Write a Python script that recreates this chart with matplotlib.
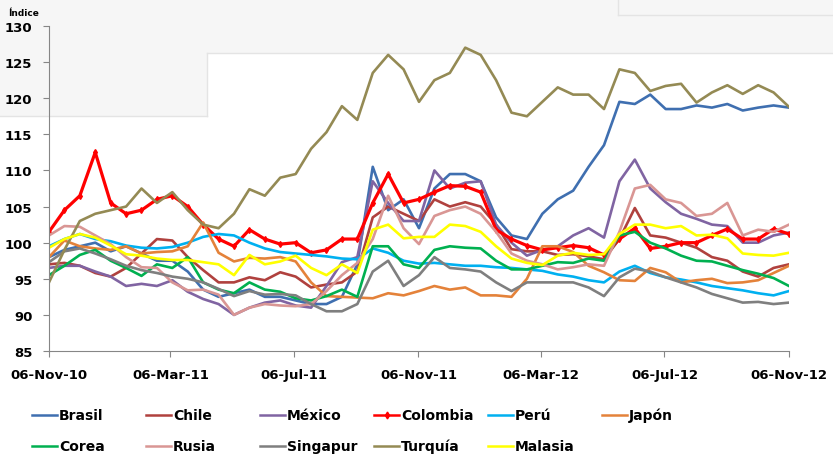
import matplotlib.pyplot as plt
import matplotlib.dates as mdates
import pandas as pd
from matplotlib.lines import Line2D
from matplotlib.patches import Rectangle

# quincenal, 06-Nov-10 .. 06-Nov-12
fechas = pd.date_range('2010-11-06', '2012-11-06', periods=49)

brasil = [98, 99, 99.5, 100, 98.8, 99.5, 98.5, 97.5, 97.5, 96,
          93.5, 92.5, 93, 93.5, 92.5, 92.5, 92, 91.5, 91.5, 92.5,
          97, 110.5, 104.5, 106, 102, 107.5, 109.5, 109.5, 108.5, 103.5,
          101, 100.5, 104, 106, 107.2, 110.5, 113.5, 119.5, 119.2, 120.5,
          118.5, 118.5, 119, 118.7, 119.2, 118.3, 118.7, 119, 118.7]
chile = [97, 97.2, 96.8, 95.8, 95.3, 96.5, 98.5, 100.5, 100.3, 98,
         96.2, 94.5, 94.5, 95.2, 94.8, 95.9, 95.3, 93.8, 94.2, 94.5,
         96, 103.5, 105, 104, 103, 106, 105, 105.6, 105, 102.5,
         99.1, 98.8, 98.8, 98.3, 98.4, 98.1, 97.7, 100.5, 104.8, 101,
         100.7, 100, 99.3, 98, 97.5, 96, 95.3, 96.5, 97]
mexico = [96.5, 96.8, 96.8, 96, 95.3, 94, 94.3, 94, 94.8, 93.2,
          92.2, 91.5, 90, 91, 91.7, 92, 91.3, 91, 94, 97.3,
          98, 108.5, 105.5, 103, 103, 110, 107.5, 108.3, 108.5, 102.5,
          100, 98.2, 99, 99.5, 101, 102, 100.7, 108.5, 111.5, 107.5,
          105.6, 104, 103.3, 102.5, 102.3, 100, 100, 101, 101.4]
colombia = [101.5, 104.5, 106.5, 112.5, 105.5, 104, 104.5, 106, 106.5, 105,
            102.5, 100.5, 99.5, 101.8, 100.5, 99.8, 100, 98.6, 99, 100.5,
            100.5, 105.5, 109.5, 105.5, 106, 107, 107.9, 107.8, 107, 101.8,
            100.5, 99.6, 99, 99.3, 99.6, 99.3, 98.3, 100.5, 102, 99.2,
            99.5, 100, 100, 101, 101.9, 100.5, 100.5, 101.9, 101.2]
peru = [99.5, 100.5, 101.2, 100.5, 100.2, 99.6, 99.3, 99.2, 99.4, 100,
        100.8, 101.2, 101, 100, 99.2, 98.7, 98.5, 98.3, 98.1, 97.8,
        97.7, 99.2, 98.6, 97.5, 97.1, 97.2, 97, 96.8, 96.8, 96.6,
        96.5, 96.3, 96.1, 95.6, 95.3, 94.8, 94.5, 96, 96.8, 95.8,
        95.2, 94.9, 94.5, 94, 93.7, 93.4, 93, 92.7, 93.3]
japon = [98, 100.3, 99.5, 99.2, 99, 99.5, 98.5, 98.7, 98.8, 99.5,
         102.8, 98.6, 97.4, 97.9, 97.8, 98, 97.4, 94.5, 92.6, 92.5,
         92.4, 92.3, 93, 92.7, 93.3, 94, 93.5, 93.8, 92.7, 92.7,
         92.5, 95, 99.5, 99.5, 98.7, 96.8, 95.9, 94.8, 94.7, 96.5,
         95.9, 94.5, 94.8, 95, 94.4, 94.5, 94.8, 95.8, 96.8]
corea = [95.5, 96.8, 98.3, 99, 97.5, 96.5, 95.4, 97, 96.5, 98,
         94.5, 93.5, 93, 94.5, 93.5, 93.2, 92.3, 92, 92.6, 93.5,
         92.5, 99.5, 99.5, 97, 96.5, 99, 99.5, 99.3, 99.2, 97.5,
         96.3, 96.3, 96.8, 97.3, 97.2, 97.8, 97.5, 101, 101.5, 100,
         99.2, 98.2, 97.5, 97.4, 96.8, 96.2, 95.7, 95.1, 94]
rusia = [101, 102.3, 102.2, 101, 99.8, 98, 96.6, 96.5, 94.5, 93.4,
         93.5, 92.8, 90, 91, 91.5, 91.3, 91.2, 91.5, 93.3, 95.5,
         97.2, 100.5, 106.5, 102, 99.8, 103.7, 104.5, 105, 104, 101.5,
         98.5, 97.5, 97, 96.3, 96.6, 97, 96.8, 101.5, 107.5, 108,
         106, 105.5, 103.7, 104, 105.5, 101, 101.8, 101.5, 102.5]
singapur = [97.3, 98.8, 99.2, 98.5, 97.7, 96.8, 96.2, 95.8, 95.3, 95,
            94.5, 93.6, 92.6, 93.3, 92.8, 92.9, 92.7, 91.5, 90.5, 90.5,
            91.5, 96, 97.5, 94, 95.5, 98, 96.5, 96.3, 96, 94.5,
            93.3, 94.5, 94.5, 94.5, 94.5, 93.8, 92.6, 95.2, 96.4, 96,
            95.2, 94.5, 93.8, 92.9, 92.3, 91.7, 91.8, 91.5, 91.7]
turquia = [94.5, 99, 103, 104, 104.5, 105, 107.5, 105.5, 107, 104.5,
           102.5, 102, 104, 107.4, 106.5, 109, 109.5, 113, 115.3, 118.9,
           117, 123.5, 126, 124, 119.5, 122.5, 123.5, 127, 126, 122.5,
           118, 117.5, 119.5, 121.5, 120.5, 120.5, 118.5, 124, 123.5, 121,
           121.7, 122, 119.4, 120.8, 121.8, 120.6, 121.8, 120.8, 118.8]
malasia = [99.3, 100.5, 101.2, 100.7, 99.6, 98.4, 98.2, 97.8, 97.6, 97.6,
           97.3, 97, 95.5, 98.3, 97, 97.4, 98.2, 96.5, 95.5, 97,
           95.8, 101.8, 102.5, 100.6, 100.8, 100.8, 102.5, 102.3, 101.5, 99.5,
           97.8, 97.2, 96.9, 98.2, 98.6, 98.3, 98.4, 101.2, 102.5, 102.5,
           102, 102.3, 101, 101.1, 100.6, 98.5, 98.3, 98.2, 98.6]

nombres = ['Brasil', 'Chile', 'México', 'Colombia', 'Perú', 'Japón',
           'Corea', 'Rusia', 'Singapur', 'Turquía', 'Malasia']
datos = [brasil, chile, mexico, colombia, peru, japon,
         corea, rusia, singapur, turquia, malasia]
colores = ['#3F6FB0', '#B0413E', '#8064A2', '#FF0000', '#00B0F0', '#E4823A',
           '#00B050', '#D99694', '#7F7F7F', '#948A54', '#FFFF00']

W, H = 833, 456
fig = plt.figure(figsize=(W / 100, H / 100), dpi=100)
fig.patch.set_facecolor('white')

# fondo gris claro de la captura
fig.patches.append(Rectangle((0, 1 - 117 / H), 207 / W, 117 / H, transform=fig.transFigure,
                             facecolor='#f6f6f6', edgecolor='none', zorder=-10))
fig.patches.append(Rectangle((207 / W, 1 - 54 / H), 1, 54 / H, transform=fig.transFigure,
                             facecolor='#f6f6f6', edgecolor='none', zorder=-10))
for xs, ys in [([0, 207], [117, 117]), ([207, 207], [117, 54]), ([207, W], [54, 54]),
               ([618, 618], [0, 16]), ([618, W], [16, 16])]:
    fig.add_artist(Line2D([x / W for x in xs], [1 - y / H for y in ys],
                          color='#e4e4e4', lw=1, zorder=-9))

ax = fig.add_axes([49 / W, 1 - 352 / H, 740 / W, 325 / H])
ax.set_facecolor('none')

for nombre, serie, color in zip(nombres, datos, colores):
    if nombre == 'Colombia':
        ax.plot(fechas, serie, color=color, lw=2.3, marker='d', ms=3)
    else:
        ax.plot(fechas, serie, color=color, lw=1.9)

ax.set_ylim(85, 130)
ax.set_yticks(range(85, 131, 5))
ax.set_xlim(pd.Timestamp('2010-11-06'), pd.Timestamp('2012-11-06'))
ax.set_xticks(pd.to_datetime(['2010-11-06', '2011-03-06', '2011-07-06', '2011-11-06',
                              '2012-03-06', '2012-07-06', '2012-11-06']))
ax.xaxis.set_major_formatter(mdates.DateFormatter('%d-%b-%y'))

for s in ['top', 'right']:
    ax.spines[s].set_visible(False)
for s in ['left', 'bottom']:
    ax.spines[s].set_color('#868686')
ax.tick_params(direction='out', length=4, color='#868686', labelsize=9.5, pad=8)
for lab in ax.get_xticklabels() + ax.get_yticklabels():
    lab.set_fontweight('bold')

fig.text(8 / W, 1 - 14 / H, 'Índice', fontsize=6.5, fontweight='bold', va='center')

# leyenda en dos filas de seis
for i, (nombre, color) in enumerate(zip(nombres, colores)):
    col, fila = i % 6, i // 6
    x0 = 32 + col * 114
    y = 1 - (416 + fila * 31) / H
    fig.add_artist(Line2D([x0 / W, (x0 + 25) / W], [y, y], color=color, lw=1.8))
    if nombre == 'Colombia':
        fig.add_artist(Line2D([(x0 + 12.5) / W], [y], color=color, marker='d', ms=3.5))
    fig.text((x0 + 27) / W, y, nombre, fontsize=10, fontweight='bold', va='center')

fig.savefig('out.png', dpi=100)
